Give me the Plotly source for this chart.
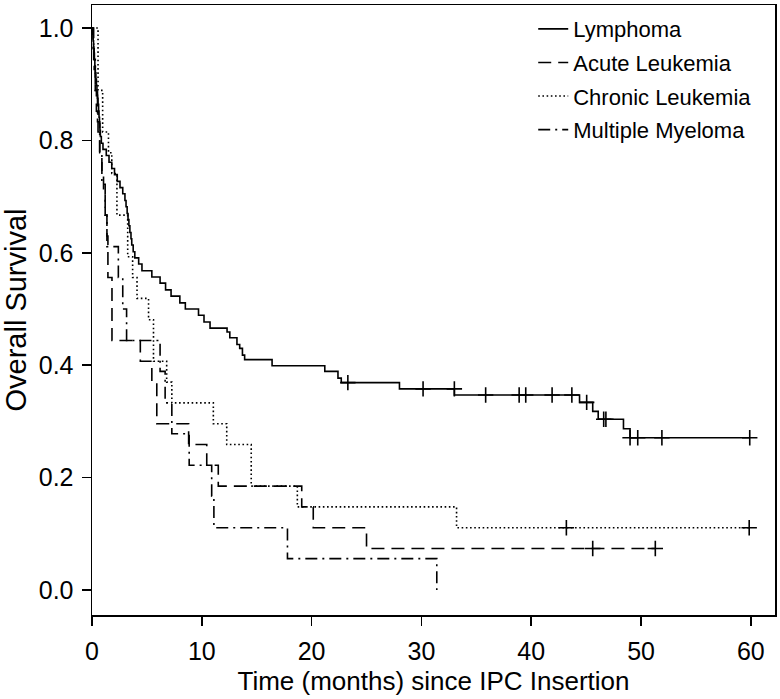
import plotly.graph_objects as go

# ---------------- data ----------------
# Lymphoma
lym_time = [0, 0.05, 0.1, 0.14, 0.18, 0.22, 0.26, 0.3, 0.35, 0.4, 0.45, 0.5, 0.55, 0.6, 0.64,
            0.68, 0.72, 0.76, 0.85, 1.0, 1.3, 1.55, 1.8, 2.05, 2.3, 2.55, 2.8, 3.0, 3.1, 3.2,
            3.28, 3.36, 3.45, 3.55, 3.62, 3.75, 3.9, 4.25, 4.55, 5.45, 6.2, 6.7, 7.2, 8.0, 8.5,
            9.7, 10.2, 10.75, 12.3, 12.55, 13.2, 13.45, 13.7, 13.9, 16.4, 21.2, 22.4, 22.7,
            28.0, 33.0, 44.4, 45.6, 46.1, 48.4, 49.0, 59.9]
lym_surv = [1.0, 0.989, 0.977, 0.966, 0.955, 0.943, 0.932, 0.920, 0.909, 0.898, 0.886, 0.875,
            0.864, 0.852, 0.841, 0.830, 0.818, 0.807, 0.795, 0.784, 0.773, 0.761, 0.750, 0.739,
            0.727, 0.716, 0.705, 0.693, 0.682, 0.670, 0.659, 0.648, 0.636, 0.625, 0.614, 0.602,
            0.591, 0.580, 0.568, 0.557, 0.546, 0.534, 0.523, 0.511, 0.500, 0.489, 0.477, 0.466,
            0.459, 0.449, 0.437, 0.430, 0.418, 0.410, 0.399, 0.389, 0.377, 0.369, 0.358, 0.347,
            0.334, 0.318, 0.304, 0.287, 0.271, 0.271]
lym_cens_time = [23.3, 30.15, 33.0, 35.85, 38.9, 39.5, 41.9, 43.7, 45.05, 46.6, 46.8, 49.0,
                 49.7, 51.9, 59.9]
lym_cens_surv = [0.369, 0.358, 0.358, 0.347, 0.347, 0.347, 0.347, 0.347, 0.334, 0.304, 0.304,
                 0.271, 0.271, 0.271, 0.271]

# Acute Leukemia
al_time = [0, 0.1, 0.2, 0.3, 0.4, 0.55, 0.7, 0.9, 1.05, 1.2, 1.36, 1.45, 1.82, 4.4, 5.45, 5.9,
           8.8, 10.45, 11.5, 19.1, 20.15, 25.0, 51.3]
al_surv = [1.0, 0.963, 0.926, 0.889, 0.852, 0.815, 0.778, 0.741, 0.704, 0.667, 0.630, 0.556,
           0.444, 0.407, 0.370, 0.296, 0.259, 0.222, 0.185, 0.148, 0.111, 0.074, 0.074]
al_cens_time = [45.6, 51.3]
al_cens_surv = [0.074, 0.074]

# Chronic Leukemia
cl_time = [0, 0.55, 0.97, 1.5, 1.8, 2.27, 3.25, 3.7, 4.1, 5.15, 5.6, 6.8, 7.27, 11.05, 12.27,
           14.5, 18.7, 33.2, 59.85]
cl_surv = [1.0, 0.889, 0.815, 0.778, 0.741, 0.667, 0.593, 0.556, 0.519, 0.481, 0.407, 0.370,
           0.333, 0.296, 0.259, 0.185, 0.148, 0.111, 0.111]
cl_cens_time = [43.2, 59.85]
cl_cens_surv = [0.111, 0.111]

# Multiple Myeloma
mm_time = [0, 0.15, 0.3, 0.5, 0.7, 0.9, 1.2, 1.36, 2.4, 2.8, 3.15, 6.2, 6.66, 7.27, 8.85,
           10.9, 11.1, 17.8, 31.4]
mm_surv = [1.0, 0.944, 0.889, 0.833, 0.778, 0.722, 0.667, 0.611, 0.556, 0.5, 0.444, 0.389,
           0.333, 0.278, 0.222, 0.167, 0.111, 0.056, 0.0]

x_ticks = [0, 10, 20, 30, 40, 50, 60]
y_ticks = [0.0, 0.2, 0.4, 0.6, 0.8, 1.0]
y_tick_labels = ["0.0", "0.2", "0.4", "0.6", "0.8", "1.0"]

FONT = "Liberation Sans, Arial, Helvetica, sans-serif"
LW = 1.6

series = [
    ("Lymphoma", lym_time, lym_surv, lym_cens_time, lym_cens_surv, "solid"),
    ("Acute Leukemia", al_time, al_surv, al_cens_time, al_cens_surv, "13px,7px"),
    ("Chronic Leukemia", cl_time, cl_surv, cl_cens_time, cl_cens_surv, "1.6px,2.6px"),
    ("Multiple Myeloma", mm_time, mm_surv, [], [], "12px,5px,2px,5px"),
]

fig = go.Figure()
for i, (name, t, s, ct, cs, dash) in enumerate(series):
    fig.add_trace(go.Scatter(
        x=t, y=s, mode="lines", name=name,
        line=dict(color="black", width=LW, dash=dash, shape="hv"),
        legendgroup="g%d" % i, showlegend=True, hoverinfo="skip"))
    if ct:
        fig.add_trace(go.Scatter(
            x=ct, y=cs, mode="markers", showlegend=False, legendgroup="g%d" % i,
            marker=dict(symbol="cross-thin", size=11, color="black",
                        line=dict(color="black", width=1.6)), hoverinfo="skip"))

axis_common = dict(showline=True, mirror=True, linecolor="black", linewidth=1.5,
                   ticks="outside", ticklen=9, tickwidth=1.5, tickcolor="black",
                   showgrid=False, zeroline=False,
                   tickfont=dict(family=FONT, size=25, color="black"))

fig.update_layout(
    width=780, height=699,
    margin=dict(l=92, r=4, t=3, b=84),
    paper_bgcolor="white", plot_bgcolor="white",
    font=dict(family=FONT, color="black"),
    hovermode=False,
    xaxis=dict(range=[0, 62.2], tickvals=x_ticks, ticklabelstandoff=4,
               title=dict(text="Time (months) since IPC Insertion",
                          font=dict(family=FONT, size=26), standoff=8),
               **axis_common),
    yaxis=dict(range=[-0.0443, 1.0408], tickvals=y_ticks, ticktext=y_tick_labels,
               ticklabelstandoff=3,
               title=dict(text="Overall Survival", font=dict(family=FONT, size=29), standoff=7),
               **axis_common),
    legend=dict(x=0.646, y=0.995, xanchor="left", yanchor="top",
                font=dict(family=FONT, size=22, color="black"),
                bgcolor="rgba(0,0,0,0)", borderwidth=0, tracegroupgap=2),
)

fig.write_html("out.html",
               config={"displayModeBar": False, "staticPlot": True},
               post_script="document.body.style.margin='0';document.body.style.padding='0';")
